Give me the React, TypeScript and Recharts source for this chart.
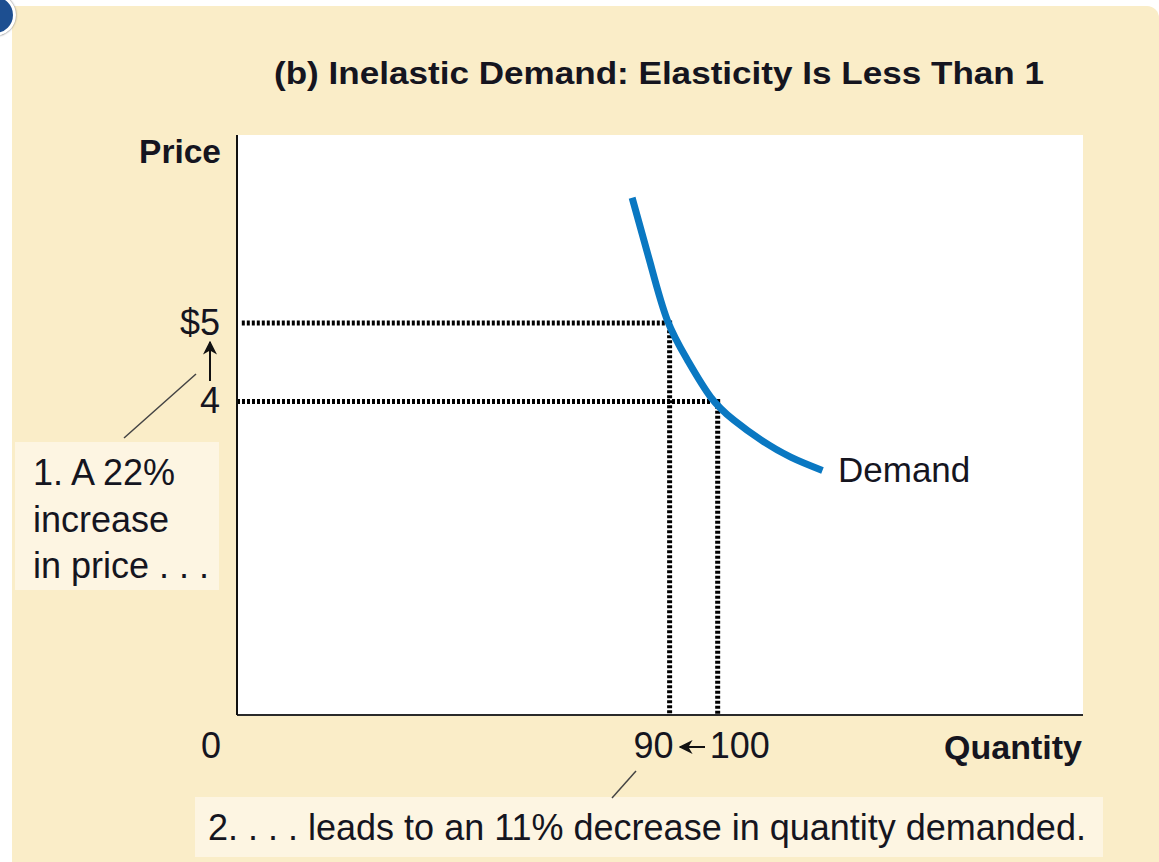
import { CartesianGrid, Line, LineChart, XAxis, YAxis } from 'recharts';

const quantityTicks = [0, 90, 100];
const priceTicks = [4, 5];
const priceLabels: Record<number, string> = { 4: '4', 5: '$5' };

// demand curve (quantity, price)
const demandQuantity = [82.2, 86, 89.5, 93.7, 98.5, 103.4, 109, 115.2, 121.8];
const demandPrice = [6.6, 5.76, 5.04, 4.53, 4.06, 3.76, 3.51, 3.29, 3.12];

// dotted guide lines
const guideHigh = [
  { q: 1, p: 5 },
  { q: 90, p: 5 },
  { q: 90, p: 0 },
];
const guideLow = [
  { q: 0, p: 4 },
  { q: 100, p: 4 },
  { q: 100, p: 0 },
];

const demandData = demandQuantity.map((q, i) => ({ q, p: demandPrice[i] }));

const W = 1159;
const H = 862;
const FONT = '"Liberation Sans", Arial, sans-serif';
const INK = '#15151f';
const BLUE = '#0a78c2';

function QuantityTick({ x, y, payload }: any) {
  const v = payload.value;
  let tx = x - 16;
  let anchor: 'start' | 'end' = 'end';
  if (v === 90) tx = x + 4;
  if (v === 100) {
    tx = x - 8;
    anchor = 'start';
  }
  return (
    <text x={tx} y={y + 43} textAnchor={anchor} fontSize={36} fontFamily={FONT} fill={INK}>
      {v}
    </text>
  );
}

function PriceTick({ x, y, payload }: any) {
  return (
    <text x={x - 17} y={y + 12} textAnchor="end" fontSize={36} fontFamily={FONT} fill={INK}>
      {priceLabels[payload.value]}
    </text>
  );
}

export default function App() {
  return (
    <div style={{ position: 'absolute', left: 0, top: 0, width: W, height: H, background: '#fff', overflow: 'hidden' }}>
      <div
        style={{
          position: 'absolute',
          left: 12,
          top: 6,
          width: W - 12,
          height: H - 6,
          background: '#faedc8',
          borderTopRightRadius: 12,
        }}
      />
      <div
        style={{
          position: 'absolute',
          left: -26,
          top: -6,
          width: 36,
          height: 36,
          borderRadius: '50%',
          background: '#1d4f91',
          border: '3px solid #fff',
          boxShadow: '0 0 2px #666',
        }}
      />
      <div style={{ position: 'absolute', left: 0, top: 0 }}>
        <LineChart width={W} height={H} margin={{ top: 135, right: 76, bottom: 146, left: 236 }}>
          <CartesianGrid horizontal={false} vertical={false} fill="#ffffff" />
          <XAxis
            type="number"
            dataKey="q"
            domain={[0, 176]}
            ticks={quantityTicks}
            height={1}
            tickSize={0}
            tickMargin={0}
            tickLine={false}
            axisLine={{ stroke: '#2a2a2a', strokeWidth: 2 }}
            tick={<QuantityTick />}
            allowDataOverflow
          />
          <YAxis
            type="number"
            dataKey="p"
            domain={[0, 7.4]}
            ticks={priceTicks}
            width={1}
            tickSize={0}
            tickMargin={0}
            tickLine={false}
            axisLine={{ stroke: '#111', strokeWidth: 2 }}
            tick={<PriceTick />}
            allowDataOverflow
          />
          <Line
            data={guideHigh}
            dataKey="p"
            type="linear"
            stroke="#000"
            strokeWidth={5}
            strokeDasharray="3 2"
            dot={false}
            isAnimationActive={false}
          />
          <Line
            data={guideLow}
            dataKey="p"
            type="linear"
            stroke="#000"
            strokeWidth={5}
            strokeDasharray="3 2"
            dot={false}
            isAnimationActive={false}
          />
          <Line
            data={demandData}
            dataKey="p"
            type="natural"
            stroke={BLUE}
            strokeWidth={7}
            dot={false}
            isAnimationActive={false}
          />
        </LineChart>
      </div>
      <svg width={W} height={H} style={{ position: 'absolute', left: 0, top: 0, pointerEvents: 'none' }}>
        <defs>
          <marker id="ah" viewBox="0 0 10 10" refX="9" refY="5" markerWidth="7" markerHeight="7" orient="auto">
            <path d="M0,0 L10,5 L0,10 L3,5 z" fill="#111" />
          </marker>
        </defs>
        <text
          x={274}
          y={84}
          fontSize={32}
          fontWeight="bold"
          fontFamily={FONT}
          fill={INK}
          textLength={770}
          lengthAdjust="spacingAndGlyphs"
        >
          (b) Inelastic Demand: Elasticity Is Less Than 1
        </text>
        <text x={221} y={163} textAnchor="end" fontSize={33.5} fontWeight="bold" fontFamily={FONT} fill={INK}>
          Price
        </text>
        <text x={1082} y={759} textAnchor="end" fontSize={34} fontWeight="bold" fontFamily={FONT} fill={INK}>
          Quantity
        </text>
        <text x={838} y={482} fontSize={35} fontFamily={FONT} fill={INK}>
          Demand
        </text>
        {/* price arrow 4 -> $5 */}
        <line x1={210} y1={381} x2={210} y2={342} stroke="#111" strokeWidth={2} markerEnd="url(#ah)" />
        {/* quantity arrow 100 -> 90 */}
        <line x1={705} y1={747} x2={680} y2={747} stroke="#111" strokeWidth={2} markerEnd="url(#ah)" />
        {/* annotation 1 */}
        <rect x={15} y={442} width={204} height={148} fill="#fdf5e2" />
        <line x1={124} y1={438} x2={196} y2={374} stroke="#444" strokeWidth={1.5} />
        <text fontSize={36} fontFamily={FONT} fill={INK}>
          <tspan x={33} y={485}>1. A 22%</tspan>
          <tspan x={33} y={532}>increase</tspan>
          <tspan x={33} y={578}>in price . . .</tspan>
        </text>
        {/* annotation 2 */}
        <rect x={195} y={797} width={908} height={60} fill="#fdf5e2" />
        <line x1={612} y1={798} x2={636} y2={771} stroke="#444" strokeWidth={1.5} />
        <text x={208} y={840} fontSize={36} fontFamily={FONT} fill={INK}>
          2. . . . leads to an 11% decrease in quantity demanded.
        </text>
      </svg>
    </div>
  );
}
